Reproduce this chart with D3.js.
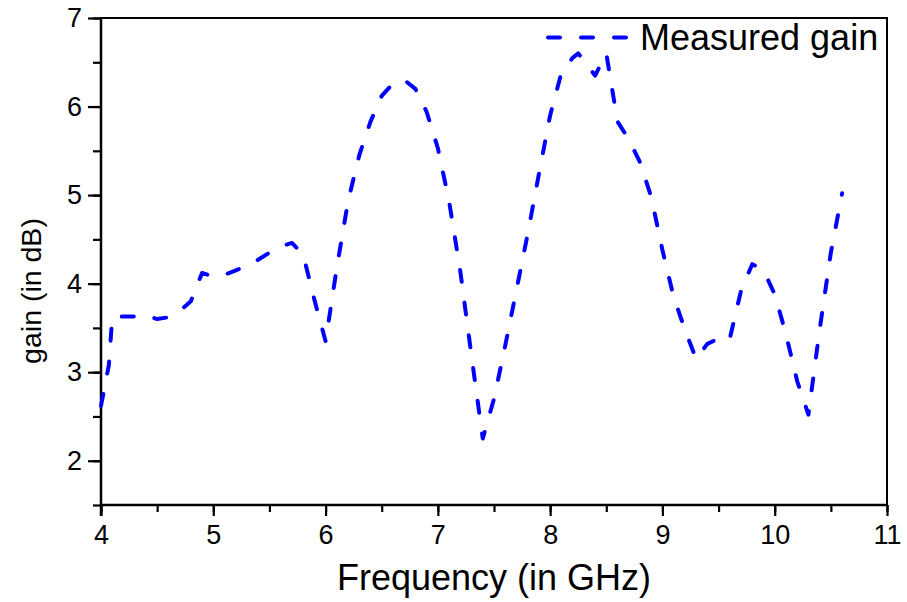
<!DOCTYPE html>
<html>
<head>
<meta charset="utf-8">
<script src="https://cdn.jsdelivr.net/npm/d3@7"></script>
<style>
html,body{margin:0;padding:0;background:#fff;}
svg{display:block;}
text{font-family:"Liberation Sans",Arial,sans-serif;fill:#000;}
</style>
</head>
<body>
<svg id="chart" width="907" height="602"></svg>
<script>
// Data
const frequency = [4.0, 4.07, 4.1, 4.2, 4.3, 4.4, 4.5, 4.6, 4.7, 4.8, 4.9, 5.0, 5.1, 5.2, 5.3, 5.4, 5.5, 5.6, 5.7, 5.8, 5.9, 6.0,
  6.1, 6.2, 6.3, 6.4, 6.5, 6.6, 6.7, 6.8, 6.9, 7.0, 7.1, 7.2, 7.3, 7.4, 7.5, 7.6, 7.7, 7.8, 7.9, 8.0, 8.1, 8.2, 8.25, 8.3, 8.4, 8.5,
  8.6, 8.7, 8.8, 8.9, 9.0, 9.1, 9.2, 9.3, 9.4, 9.5, 9.55, 9.6, 9.7, 9.8, 9.9, 10.0, 10.1, 10.2, 10.3, 10.4, 10.5, 10.6];
const measuredGain = [2.62, 3.08, 3.62, 3.63, 3.63, 3.64, 3.6, 3.62, 3.69, 3.8, 4.12, 4.08, 4.1, 4.15, 4.2, 4.27, 4.35, 4.42, 4.46, 4.33, 3.82, 3.35,
  4.18, 4.93, 5.45, 5.83, 6.12, 6.26, 6.3, 6.2, 5.94, 5.53, 4.93, 4.14, 3.18, 2.25, 2.7, 3.3, 3.93, 4.56, 5.24, 5.9, 6.38, 6.55, 6.6, 6.52, 6.35, 6.6,
  5.83, 5.63, 5.37, 4.98, 4.38, 3.85, 3.48, 3.15, 3.32, 3.38, 3.35, 3.38, 3.92, 4.22, 4.15, 3.88, 3.43, 2.9, 2.52, 3.48, 4.35, 5.02];
const xTicks = [4, 5, 6, 7, 8, 9, 10, 11];
const yTicks = [2, 3, 4, 5, 6, 7];
const seriesName = "Measured gain";
const xTitle = "Frequency (in GHz)";
const yTitle = "gain (in dB)";

const svg = d3.select("#chart");
const m = {left: 101, right: 887, top: 18, bottom: 505};

const x = d3.scaleLinear().domain([4, 11]).range([m.left, m.right]);
const y = d3.scaleLinear().domain([1.5, 7]).range([m.bottom, m.top]);

const minorX = d3.range(4, 11.01, 0.5);
const minorY = d3.range(1.5, 7.01, 0.5);

// frame (top/right)
svg.append("rect")
  .attr("x", m.left).attr("y", m.top)
  .attr("width", m.right - m.left).attr("height", m.bottom - m.top)
  .attr("fill", "none").attr("stroke", "#000").attr("stroke-width", 2);

// X axis
const gx = svg.append("g").attr("transform", `translate(0,${m.bottom})`);
gx.call(d3.axisBottom(x).tickValues(minorX).tickSize(7).tickFormat(""))
  .call(g => g.select(".domain").remove())
  .call(g => g.selectAll("line").attr("stroke-width", 2.2));
gx.append("g").call(d3.axisBottom(x).tickValues(xTicks).tickSize(11).tickPadding(9)
    .tickFormat(d3.format("d")))
  .call(g => g.select(".domain").remove())
  .call(g => g.selectAll("line").attr("stroke-width", 2.2))
  .call(g => g.selectAll("text").attr("font-size", 27).attr("font-family", "Liberation Sans, Arial, sans-serif").attr("fill", "#000"));
svg.append("line").attr("x1", m.left).attr("x2", m.right).attr("y1", m.bottom).attr("y2", m.bottom)
  .attr("stroke", "#000").attr("stroke-width", 2.5);

// Y axis
const gy = svg.append("g").attr("transform", `translate(${m.left},0)`);
gy.call(d3.axisLeft(y).tickValues(minorY).tickSize(8).tickFormat(""))
  .call(g => g.select(".domain").remove())
  .call(g => g.selectAll("line").attr("stroke-width", 2.2));
gy.append("g").call(d3.axisLeft(y).tickValues(yTicks).tickSize(13).tickPadding(6)
    .tickFormat(d3.format("d")))
  .call(g => g.select(".domain").remove())
  .call(g => g.selectAll("line").attr("stroke-width", 2.2))
  .call(g => g.selectAll("text").attr("font-size", 27).attr("font-family", "Liberation Sans, Arial, sans-serif").attr("fill", "#000"));
svg.append("line").attr("x1", m.left).attr("x2", m.left).attr("y1", m.top).attr("y2", m.bottom + 11)
  .attr("stroke", "#000").attr("stroke-width", 2.5);

// Titles
svg.append("text").attr("x", (m.left + m.right) / 2).attr("y", 590)
  .attr("text-anchor", "middle").attr("font-size", 36).text(xTitle);
svg.append("text").attr("transform", "translate(41,291) rotate(-90)")
  .attr("text-anchor", "middle").attr("font-size", 28.5).text(yTitle);

// Line
const pts = frequency.map((f, i) => [f, measuredGain[i]]);
const line = d3.line().x(d => x(d[0])).y(d => y(d[1]));
svg.append("path").datum(pts).attr("d", line)
  .attr("fill", "none").attr("stroke", "#0000ff").attr("stroke-width", 4)
  .attr("stroke-dasharray", "12,21").attr("stroke-linecap", "round").attr("stroke-linejoin", "round");

// Legend
svg.append("line").attr("x1", 548).attr("x2", 630).attr("y1", 37.5).attr("y2", 37.5)
  .attr("stroke", "#0000ff").attr("stroke-width", 4).attr("stroke-dasharray", "12,21").attr("stroke-linecap", "round");
svg.append("text").attr("x", 640).attr("y", 50).attr("font-size", 36).text(seriesName);
</script>
</body>
</html>
